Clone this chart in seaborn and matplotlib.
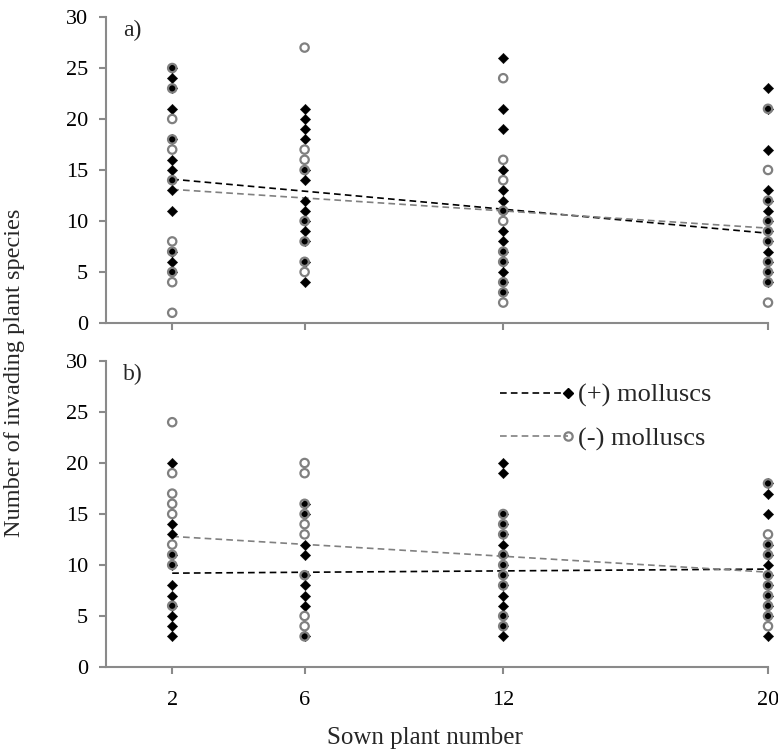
import numpy as np
import pandas as pd
import matplotlib
matplotlib.use("Agg")
import matplotlib.pyplot as plt
import seaborn as sns
from matplotlib.lines import Line2D
from matplotlib.legend_handler import HandlerLine2D

# ---------------- data ----------------
sown = [2, 6, 12, 20]
xtick_labels = ["2", "6", "12", "20"]
yticks = [0, 5, 10, 15, 20, 25, 30]

# panel a) values per sown level
a_plus = {
    2: [25, 24, 23, 21, 18, 16, 15, 14, 13, 11, 7, 6, 5],
    6: [21, 20, 19, 18, 15, 14, 12, 11, 10, 9, 8, 6, 4],
    12: [26, 21, 19, 15, 13, 12, 11, 9, 8, 7, 6, 5, 4, 3],
    20: [23, 21, 17, 13, 12, 11, 10, 9, 8, 7, 6, 5, 4],
}
a_minus = {
    2: [25, 23, 20, 18, 17, 14, 8, 7, 5, 4, 1],
    6: [27, 17, 16, 15, 10, 8, 6, 5],
    12: [24, 16, 14, 11, 10, 7, 6, 4, 3, 2],
    20: [21, 15, 12, 10, 9, 8, 6, 5, 4, 2],
}
# panel b)
b_plus = {
    2: [20, 14, 13, 11, 10, 8, 7, 6, 5, 4, 3],
    6: [16, 15, 12, 11, 9, 8, 7, 6, 3],
    12: [20, 19, 15, 14, 13, 12, 11, 10, 9, 8, 7, 6, 5, 4, 3],
    20: [18, 17, 15, 12, 11, 10, 9, 8, 7, 6, 5, 3],
}
b_minus = {
    2: [24, 19, 17, 16, 15, 12, 11, 10, 6],
    6: [20, 19, 16, 15, 14, 13, 9, 5, 4, 3],
    12: [15, 14, 13, 11, 10, 9, 8, 5, 4],
    20: [18, 13, 12, 11, 9, 8, 7, 6, 5, 4],
}
# trend lines (values at x = 2 and x = 20)
trend_x = [2, 20]
a_plus_trend = [14.1, 8.8]
a_minus_trend = [13.1, 9.3]
b_plus_trend = [9.2, 9.6]
b_minus_trend = [12.8, 9.3]

labels = ["(+) molluscs", "(-) molluscs"]
panel_tags = ["a)", "b)"]


def to_df(d):
    rows = [(x, v) for x, vals in d.items() for v in vals]
    return pd.DataFrame(rows, columns=["sown", "species"])


# ---------------- style ----------------
sns.set_theme(style="white")
plt.rcParams["font.family"] = ["Liberation Serif", "DejaVu Serif"]
AXC = "#8a8a8a"
GRAY = "#808080"
DASH = (4, 2.5)

fig = plt.figure(figsize=(7.78, 7.51), dpi=100)
W, H = 778, 751
left, right = 106 / W, 768 / W
ax_a = fig.add_axes([left, 1 - 323 / H, right - left, (323 - 17) / H])
ax_b = fig.add_axes([left, 1 - 667 / H, right - left, (667 - 361) / H])

panels = [
    (ax_a, a_plus, a_minus, a_plus_trend, a_minus_trend, panel_tags[0]),
    (ax_b, b_plus, b_minus, b_plus_trend, b_minus_trend, panel_tags[1]),
]

for ax, plus, minus, tp, tm, tag in panels:
    tdf = pd.DataFrame({"sown": trend_x, "plus": tp, "minus": tm})
    sns.lineplot(data=tdf, x="sown", y="plus", ax=ax, color="black",
                 linewidth=1.2, dashes=DASH, errorbar=None, zorder=2)
    sns.lineplot(data=tdf, x="sown", y="minus", ax=ax, color=GRAY,
                 linewidth=1.2, dashes=DASH, errorbar=None, zorder=2)
    sns.scatterplot(data=to_df(plus), x="sown", y="species", ax=ax,
                    marker="D", s=28, color="black", edgecolor="black",
                    linewidth=0.3, zorder=3, clip_on=False)
    sns.scatterplot(data=to_df(minus), x="sown", y="species", ax=ax,
                    marker="o", s=36, facecolors="none", edgecolor=GRAY,
                    linewidth=1.6, zorder=4, clip_on=False)

    ax.set_xlim(0, 20)
    ax.set_ylim(0, 30)
    ax.set_yticks(yticks)
    ax.set_xticks(sown)
    ax.set_xlabel("")
    ax.set_ylabel("")
    for s in ["top", "right"]:
        ax.spines[s].set_visible(False)
    for s in ["left", "bottom"]:
        ax.spines[s].set_color(AXC)
        ax.spines[s].set_linewidth(1.5)
    ax.tick_params(axis="both", direction="out", length=5, width=1.5,
                   color=AXC, labelsize=16, labelcolor="black")
    ax.tick_params(axis="y", left=True, pad=8)
    ax.tick_params(axis="x", bottom=True, pad=12)
    ax.text(0.026, 0.955, tag, transform=ax.transAxes, fontsize=17,
            ha="left", va="center")

ax_a.set_xticklabels([])
ax_b.set_xticklabels(xtick_labels)


class EndMarkerHandler(HandlerLine2D):
    """Dashed line with its marker at the right end, as in the reference."""

    def create_artists(self, legend, orig_handle, xdescent, ydescent,
                       width, height, fontsize, trans):
        y = (height - ydescent) / 2
        x0, x1 = -xdescent, -xdescent + width
        line = Line2D([x0, x1], [y, y])
        self.update_prop(line, orig_handle, legend)
        line.set_marker("None")
        mark = Line2D([x1], [y])
        self.update_prop(mark, orig_handle, legend)
        mark.set_linestyle("None")
        line.set_transform(trans)
        mark.set_transform(trans)
        return [line, mark]


h_plus = Line2D([], [], color="black", linewidth=1.2, dashes=DASH,
                marker="D", markersize=5, markerfacecolor="black",
                markeredgecolor="black")
h_minus = Line2D([], [], color=GRAY, linewidth=1.2, dashes=DASH,
                 marker="o", markersize=6, markerfacecolor="none",
                 markeredgecolor=GRAY, markeredgewidth=1.6)
ax_b.legend([h_plus, h_minus], labels, loc="upper left",
            bbox_to_anchor=(0.575, 0.97), frameon=False, fontsize=19,
            borderpad=0, handlelength=2.6, handletextpad=0.35,
            labelspacing=0.75,
            handler_map={h_plus: EndMarkerHandler(),
                         h_minus: EndMarkerHandler()})

fig.text(425 / W, 1 - 738 / H, "Sown plant number",
         ha="center", va="center", fontsize=18)
fig.text(0.019, 0.503, "Number of invading plant species", rotation=90,
         ha="center", va="center", fontsize=17.5)

fig.savefig("out.png", dpi=100)
